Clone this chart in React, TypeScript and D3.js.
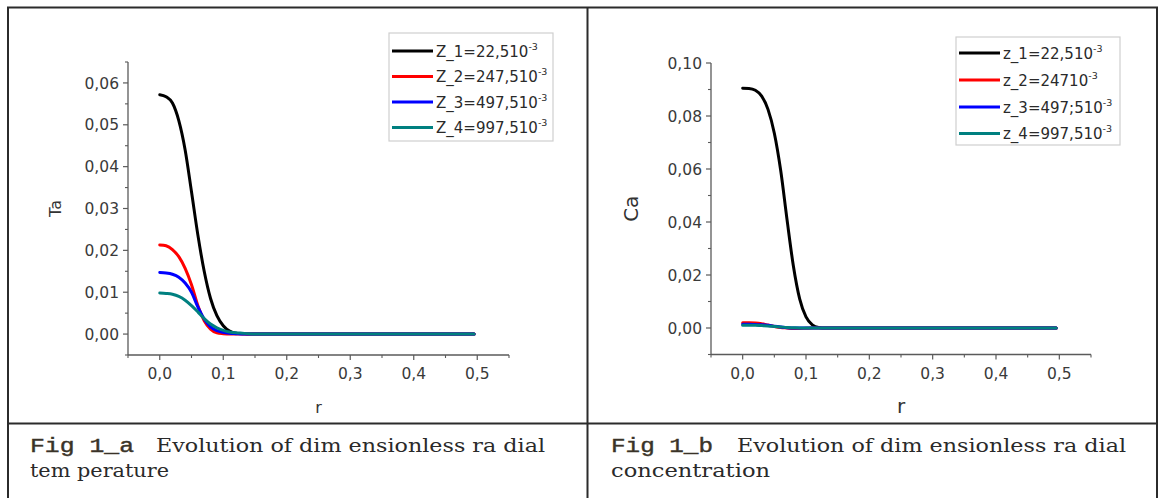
import React from "react";
import * as d3 from "d3";

// ---------- data ----------
const rGrid = [0, 0.01, 0.02, 0.03, 0.04, 0.05, 0.06, 0.07, 0.08, 0.09, 0.1, 0.11, 0.12, 0.13, 0.14, 0.16, 0.2, 0.3, 0.4, 0.495];

const taZ1 = [0.0572, 0.0567, 0.0552, 0.051, 0.044, 0.034, 0.0237, 0.015, 0.0085, 0.0044, 0.002, 0.0007, 0.0002, 0.0001, 0, 0, 0, 0, 0, 0];
const taZ2 = [0.0213, 0.0211, 0.0202, 0.0185, 0.0157, 0.0118, 0.0068, 0.0032, 0.0012, 0.0003, 0.0001, 0, 0, 0, 0, 0, 0, 0, 0, 0];
const taZ3 = [0.0147, 0.0146, 0.0143, 0.0136, 0.0122, 0.01, 0.0065, 0.0036, 0.0017, 0.0008, 0.0004, 0.0002, 0.0001, 0, 0, 0, 0, 0, 0, 0];
const taZ4 = [0.0098, 0.0097, 0.0095, 0.009, 0.0081, 0.0068, 0.0053, 0.0037, 0.0024, 0.0015, 0.0009, 0.0005, 0.0003, 0.0002, 0.0001, 0, 0, 0, 0, 0];

const caZ1 = [0.0905, 0.0904, 0.0897, 0.0875, 0.0825, 0.0735, 0.0595, 0.041, 0.0235, 0.011, 0.0042, 0.0012, 0.0002, 0, 0, 0, 0, 0, 0, 0];
const caZ2 = [0.002, 0.002, 0.0019, 0.0016, 0.0011, 0.0006, 0.0002, 0, -0.0002, -0.0002, -0.0001, 0, 0, 0, 0, 0, 0, 0, 0, 0];
const caZ3 = [0.0014, 0.0014, 0.0013, 0.0012, 0.001, 0.0007, 0.0004, 0.0001, 0, 0, 0, 0, 0, 0, 0, 0, 0, 0, 0, 0];
const caZ4 = [0.001, 0.001, 0.001, 0.0009, 0.0008, 0.0006, 0.0004, 0.0002, 0.0001, 0, 0, 0, 0, 0, 0, 0, 0, 0, 0, 0];

const xTicks = [0, 0.1, 0.2, 0.3, 0.4, 0.5];
const xMinorTicks = [-0.05, 0.05, 0.15, 0.25, 0.35, 0.45, 0.55];
const taTicks = [0, 0.01, 0.02, 0.03, 0.04, 0.05, 0.06];
const taMinorTicks = [-0.005, 0.005, 0.015, 0.025, 0.035, 0.045, 0.055, 0.065];
const caTicks = [0, 0.02, 0.04, 0.06, 0.08, 0.1];
const caMinorTicks = [-0.01, 0.01, 0.03, 0.05, 0.07, 0.09];

const taLegend = ["Z_1=22,510", "Z_2=247,510", "Z_3=497,510", "Z_4=997,510"];
const caLegend = ["z_1=22,510", "z_2=24710", "z_3=497;510", "z_4=997,510"];
const seriesColors = ["#000000", "#ff0000", "#0000ff", "#008080"];

const FONT = "'DejaVu Sans', Arial, sans-serif";

type Cfg = {
  xRange: [number, number];
  yRange: [number, number];
  yDomain: [number, number];
  series: number[][];
  ticks: number[];
  minor: number[];
  yFmt: string;
  yLabel: string;
  yLabelX: number;
  titleSize: number;
  legend: string[];
  legendBox: [number, number, number, number];
  legendYs: number[];
};

function Panel({ cfg }: { cfg: Cfg }) {
  const x = d3.scaleLinear().domain([-0.05, 0.55]).range(cfg.xRange);
  const y = d3.scaleLinear().domain(cfg.yDomain).range(cfg.yRange);
  const line = d3
    .line<number>()
    .x((_, i) => x(rGrid[i]))
    .y((d) => y(d))
    .curve(d3.curveMonotoneX);
  const fy = (v: number) => d3.format(cfg.yFmt)(v).replace(".", ",");
  const fx = (v: number) => d3.format(".1f")(v).replace(".", ",");
  const x0 = cfg.xRange[0];
  const y0 = cfg.yRange[0];
  const axisColor = "#5a5a5a";
  const [lx, ly, lw, lh] = cfg.legendBox;
  return (
    <g>
      {/* curves */}
      {cfg.series.map((s, i) => (
        <path key={i} d={line(s) || ""} fill="none" stroke={seriesColors[i]} strokeWidth={3} strokeLinejoin="round" strokeLinecap="round" />
      ))}
      {/* axes */}
      <line x1={x0} x2={x0} y1={cfg.yRange[0]} y2={cfg.yRange[1]} stroke={axisColor} strokeWidth={1.3} />
      <line x1={cfg.xRange[0]} x2={cfg.xRange[1]} y1={y0} y2={y0} stroke={axisColor} strokeWidth={1.3} />
      {cfg.ticks.map((t) => (
        <g key={"yt" + t}>
          <line x1={x0 - 5} x2={x0} y1={y(t)} y2={y(t)} stroke={axisColor} strokeWidth={1.2} />
          <text x={x0 - 9} y={y(t)} dy="0.36em" textAnchor="end" fontFamily={FONT} fontSize={15.5} fill="#3a3a3a">
            {fy(t)}
          </text>
        </g>
      ))}
      {cfg.minor.map((t) => (
        <line key={"ym" + t} x1={x0 - 3} x2={x0} y1={y(t)} y2={y(t)} stroke={axisColor} strokeWidth={1.1} />
      ))}
      {xTicks.map((t) => (
        <g key={"xt" + t}>
          <line x1={x(t)} x2={x(t)} y1={y0} y2={y0 + 5} stroke={axisColor} strokeWidth={1.2} />
          <text x={x(t)} y={y0 + 24} textAnchor="middle" fontFamily={FONT} fontSize={15.5} fill="#3a3a3a">
            {fx(t)}
          </text>
        </g>
      ))}
      {xMinorTicks.map((t) => (
        <line key={"xm" + t} x1={x(t)} x2={x(t)} y1={y0} y2={y0 + 3} stroke={axisColor} strokeWidth={1.1} />
      ))}
      {/* axis titles */}
      <text x={x(0.25)} y={y0 + 58} textAnchor="middle" fontFamily={FONT} fontSize={cfg.titleSize} fill="#333">
        r
      </text>
      <text
        transform={`translate(${cfg.yLabelX},${(cfg.yRange[0] + cfg.yRange[1]) / 2}) rotate(-90)`}
        textAnchor="middle"
        fontFamily={FONT}
        fontSize={cfg.titleSize}
        fill="#333"
      >
        {cfg.yLabel}
      </text>
      {/* legend */}
      <rect x={lx} y={ly} width={lw} height={lh} fill="#fff" stroke="#cfcfcf" strokeWidth={1.2} />
      {cfg.legend.map((s, i) => (
        <g key={"lg" + i}>
          <line x1={lx + 3} x2={lx + 44} y1={cfg.legendYs[i]} y2={cfg.legendYs[i]} stroke={seriesColors[i]} strokeWidth={3} />
          <text x={lx + 47} y={cfg.legendYs[i] + 5.5} fontFamily={FONT} fontSize={15} fill="#2a2a2a">
            {s}
            <tspan dy={-7} fontSize={9.5}>
              -3
            </tspan>
          </text>
        </g>
      ))}
    </g>
  );
}

const leftCfg: Cfg = {
  xRange: [128, 509],
  yRange: [355, 62],
  yDomain: [-0.005, 0.065],
  series: [taZ1, taZ2, taZ3, taZ4],
  ticks: taTicks,
  minor: taMinorTicks,
  yFmt: ".2f",
  yLabel: "Ta",
  yLabelX: 61,
  titleSize: 16,
  legend: taLegend,
  legendBox: [389, 33, 164, 108],
  legendYs: [51, 76.5, 102, 127.5],
};

const rightCfg: Cfg = {
  xRange: [711, 1091],
  yRange: [354.5, 63],
  yDomain: [-0.01, 0.1],
  series: [caZ1, caZ2, caZ3, caZ4],
  ticks: caTicks,
  minor: caMinorTicks,
  yFmt: ".2f",
  yLabel: "Ca",
  yLabelX: 638,
  titleSize: 20,
  legend: caLegend,
  legendBox: [956, 37, 164, 108],
  legendYs: [53, 80, 107, 133.5],
};

const MONO = "'Liberation Mono', 'DejaVu Sans Mono', monospace";
const SERIF = "'DejaVu Serif', 'Liberation Serif', serif";

export default function App() {
  const border = "#2b2b2b";
  return (
    <svg width={1160} height={498} style={{ position: "absolute", left: 0, top: 0, background: "#fff" }}>
      <rect x={0} y={0} width={1160} height={498} fill="#fff" />
      {/* table frame */}
      <line x1={7} x2={1158} y1={7.5} y2={7.5} stroke={border} strokeWidth={2} />
      <line x1={8} x2={8} y1={7} y2={498} stroke={border} strokeWidth={2} />
      <line x1={587.5} x2={587.5} y1={7} y2={498} stroke={border} strokeWidth={2} />
      <line x1={1157} x2={1157} y1={7} y2={498} stroke={border} strokeWidth={2} />
      <line x1={7} x2={1158} y1={423.5} y2={423.5} stroke={border} strokeWidth={2} />

      <Panel cfg={leftCfg} />
      <Panel cfg={rightCfg} />

      {/* captions */}
      <text x={30} y={452} fontFamily={MONO} fontSize={20} fill="#3a3328" stroke="#3a3328" strokeWidth={0.4} textLength={104} lengthAdjust="spacingAndGlyphs">
        Fig 1_a
      </text>
      <text x={156} y={452} fontFamily={SERIF} fontSize={18} fill="#2a2a2a" textLength={389} lengthAdjust="spacingAndGlyphs">
        Evolution of dim ensionless ra dial
      </text>
      <text x={30} y={477} fontFamily={SERIF} fontSize={18} fill="#2a2a2a" textLength={139} lengthAdjust="spacingAndGlyphs">
        tem perature
      </text>

      <text x={611} y={452} fontFamily={MONO} fontSize={20} fill="#3a3328" stroke="#3a3328" strokeWidth={0.4} textLength={102} lengthAdjust="spacingAndGlyphs">
        Fig 1_b
      </text>
      <text x={737} y={452} fontFamily={SERIF} fontSize={18} fill="#2a2a2a" textLength={389} lengthAdjust="spacingAndGlyphs">
        Evolution of dim ensionless ra dial
      </text>
      <text x={611} y={477} fontFamily={SERIF} fontSize={18} fill="#2a2a2a" textLength={159} lengthAdjust="spacingAndGlyphs">
        concentration
      </text>
    </svg>
  );
}
